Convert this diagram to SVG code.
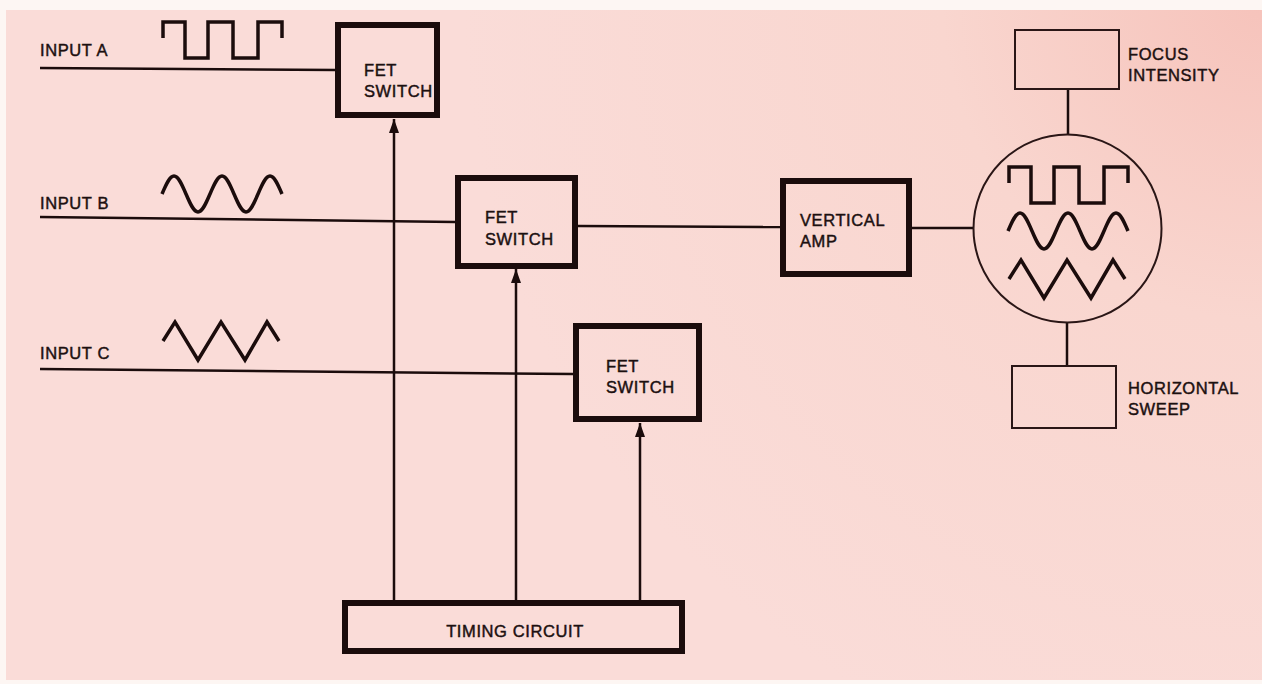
<svg xmlns="http://www.w3.org/2000/svg" width="1262" height="684" viewBox="0 0 1262 684">
<defs>
<style>
.bg{fill:url(#paper)}
.thick{fill:none;stroke:#1b0c0c;stroke-width:6}
.thin{fill:none;stroke:#2a1616;stroke-width:2}
.wire{fill:none;stroke:#1b0c0c;stroke-width:2.5}
.wave{fill:none;stroke:#1b0c0c;stroke-width:3.5;stroke-linejoin:miter}
.lbl{font-family:"Liberation Sans",Arial,sans-serif;font-size:16.5px;letter-spacing:0.6px;fill:#1c1010;stroke:#1c1010;stroke-width:0.45}
</style>
<radialGradient id="paper" cx="1262" cy="0" r="800" gradientUnits="userSpaceOnUse">
<stop offset="0" stop-color="#f6c3bb"/>
<stop offset="0.4" stop-color="#f9d6cf"/>
<stop offset="1" stop-color="#fadcd8"/>
</radialGradient>
<marker id="arr" viewBox="0 0 14 10" refX="14" refY="5" markerWidth="14" markerHeight="10" markerUnits="userSpaceOnUse" orient="auto">
<path d="M0,0 L14,5 L0,10 z" fill="#1b0c0c"/>
</marker>
<path id="sq" d="M1,16 V0 H23 V36 H46 V0 H71 V36 H96 V0 H120 V16"/>
<path id="sine" d="M0,18 C4.1,8.3 7.6,0 12,0 S19.9,8.3 24,18 S31.6,36 36,36 S43.9,27.7 48,18 S55.6,0 60,0 S67.9,8.3 72,18 S79.6,36 84,36 S91.9,27.7 96,18 S103.6,0 108,0 S115.9,8.3 120,18"/>
<path id="tri" d="M0,19 L12,0 L35,38 L58,0 L82,38 L104,0 L116,19"/>
</defs>
<rect x="0" y="0" width="1262" height="684" fill="#fdf6f3"/>
<rect class="bg" x="6" y="10" width="1256" height="670"/>

<g id="connectors">
<path class="wire" d="M40,68 L336,70"/>
<path class="wire" d="M40,217 L455,222"/>
<path class="wire" d="M40,369 L573,374"/>
<path class="wire" d="M578,226 L780,227"/>
<path class="wire" d="M912,228 L973,228"/>
<path class="wire" d="M1068,90 L1068,134"/>
<path class="wire" d="M1067,323 L1067,365"/>
<path class="wire" d="M394,600 L394,119" marker-end="url(#arr)"/>
<path class="wire" d="M516,600 L516,269" marker-end="url(#arr)"/>
<path class="wire" d="M640,600 L640,423" marker-end="url(#arr)"/>
</g>

<g id="inputA">
<text class="lbl" x="40" y="56">INPUT A</text>
<use href="#sq" class="wave" x="162" y="22"/>
</g>
<g id="inputB">
<text class="lbl" x="40" y="209">INPUT B</text>
<use href="#sine" class="wave" x="162" y="176"/>
</g>
<g id="inputC">
<text class="lbl" x="40" y="359">INPUT C</text>
<use href="#tri" class="wave" x="163" y="322"/>
</g>

<g id="fet1">
<rect class="thick" x="338" y="25" width="99" height="90"/>
<text class="lbl" x="364" y="76">FET</text>
<text class="lbl" x="364" y="97">SWITCH</text>
</g>
<g id="fet2">
<rect class="thick" x="458" y="178" width="117" height="88"/>
<text class="lbl" x="485" y="223">FET</text>
<text class="lbl" x="485" y="245">SWITCH</text>
</g>
<g id="fet3">
<rect class="thick" x="576" y="326" width="123" height="93"/>
<text class="lbl" x="606" y="372">FET</text>
<text class="lbl" x="606" y="393">SWITCH</text>
</g>
<g id="vamp">
<rect class="thick" x="783" y="181" width="126" height="93"/>
<text class="lbl" x="800" y="226">VERTICAL</text>
<text class="lbl" x="800" y="247">AMP</text>
</g>
<g id="crt">
<circle class="thin" cx="1067.5" cy="228.5" r="94"/>
<use href="#sq" class="wave" x="1008" y="167"/>
<use href="#sine" class="wave" x="1008" y="213"/>
<use href="#tri" class="wave" x="1009" y="260"/>
</g>
<g id="focus">
<rect class="thin" x="1015" y="30" width="104" height="59"/>
<text class="lbl" x="1128" y="60">FOCUS</text>
<text class="lbl" x="1128" y="81">INTENSITY</text>
</g>
<g id="hsweep">
<rect class="thin" x="1012" y="366" width="104" height="62"/>
<text class="lbl" x="1128" y="394">HORIZONTAL</text>
<text class="lbl" x="1128" y="415">SWEEP</text>
</g>
<g id="timing">
<rect class="thick" x="345" y="603" width="337" height="48"/>
<text class="lbl" x="515" y="637" text-anchor="middle">TIMING CIRCUIT</text>
</g>
</svg>
